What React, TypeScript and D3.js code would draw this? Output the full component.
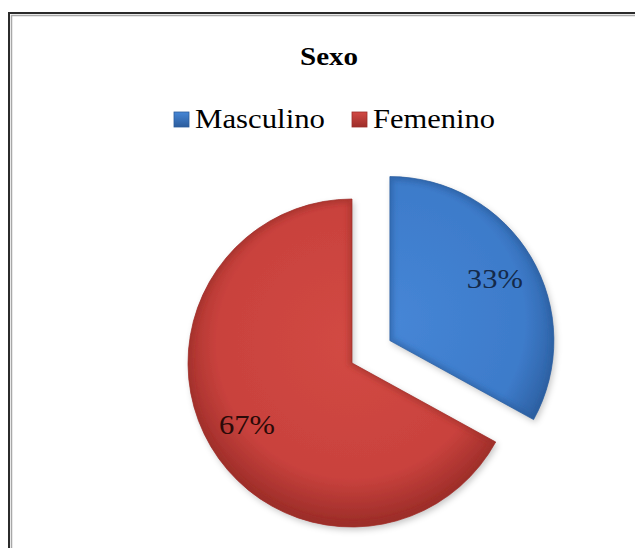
import React from "react";
import * as d3 from "d3";

const categories = ["Masculino", "Femenino"];
const values = [33, 67];
const labels = ["33%", "67%"];
const title = "Sexo";

const W = 635;
const H = 548;
const cx = 352;
const cy = 363;
const R = 164;
const explode = [44, 0];
const baseColors = ["#3d7bca", "#c9423d"];
const lightColors = ["#4686d6", "#d24944"];
const darkColors = ["#2b5c9c", "#9d2d29"];

export default function App() {
  const pie = d3.pie<number>().sort(null).startAngle(0).endAngle(2 * Math.PI);
  const arcs = pie(values);
  const arcGen = d3.arc<d3.PieArcDatum<number>>().innerRadius(0).outerRadius(R);

  const serif = "'Liberation Serif', 'Times New Roman', serif";

  const legendX = d3.scaleOrdinal<string, number>().domain(categories).range([174, 352]);

  return (
    <svg
      width={W}
      height={H}
      style={{ position: "absolute", left: 0, top: 0, background: "#fff" }}
    >
      <defs>
        {categories.map((c, i) => (
          <radialGradient
            key={c}
            id={`g${i}`}
            gradientUnits="userSpaceOnUse"
            cx={0}
            cy={-20}
            r={R * 1.1}
          >
            <stop offset="0%" stopColor={lightColors[i]} />
            <stop offset="75%" stopColor={baseColors[i]} />
            <stop offset="100%" stopColor={darkColors[i]} />
          </radialGradient>
        ))}
        {categories.map((c, i) => (
          <linearGradient key={c} id={`lg${i}`} x1="0" y1="0" x2="0" y2="1">
            <stop offset="0%" stopColor={lightColors[i]} />
            <stop offset="100%" stopColor={darkColors[i]} />
          </linearGradient>
        ))}
        <filter id="shadow" x="-20%" y="-20%" width="140%" height="140%">
          <feDropShadow dx="2" dy="3" stdDeviation="3" floodColor="#000" floodOpacity="0.22" />
        </filter>
        <filter id="blur">
          <feGaussianBlur stdDeviation="2.5" />
        </filter>
        {arcs.map((a, i) => (
          <clipPath key={i} id={`clip${i}`}>
            <path d={arcGen(a) || ""} />
          </clipPath>
        ))}
      </defs>

      {/* chart border */}
      <rect x={9} y={13} width={W} height={H} fill="none" stroke="#2b2b2b" strokeWidth={2} />
      <rect x={11.5} y={15.5} width={W} height={H} fill="none" stroke="#a8a8a8" strokeWidth={1.5} />

      <text
        x={329}
        y={65}
        textAnchor="middle"
        fontFamily={serif}
        fontWeight="bold"
        fontSize={25}
        textLength={58}
        lengthAdjust="spacingAndGlyphs"
        fill="#000"
      >
        {title}
      </text>

      {categories.map((c, i) => (
        <g key={c}>
          <rect
            x={legendX(c)}
            y={112}
            width={15}
            height={15}
            fill={`url(#lg${i})`}
            stroke={darkColors[i]}
            strokeWidth={0.8}
          />
          <text
            x={(legendX(c) as number) + 21}
            y={128}
            fontFamily={serif}
            fontSize={28}
            textLength={i === 0 ? 130 : 122}
            lengthAdjust="spacingAndGlyphs"
            fill="#000"
          >
            {c}
          </text>
        </g>
      ))}

      {arcs.map((a, i) => {
        const mid = (a.startAngle + a.endAngle) / 2;
        const dx = Math.sin(mid) * explode[i];
        const dy = -Math.cos(mid) * explode[i];
        const lx = Math.sin(mid) * 122;
        const ly = -Math.cos(mid) * 122;
        return (
          <g key={i} transform={`translate(${cx + dx},${cy + dy})`}>
            <path d={arcGen(a) || ""} fill={`url(#g${i})`} filter="url(#shadow)" />
            <g clipPath={`url(#clip${i})`}>
              <path
                d={arcGen(a) || ""}
                fill="none"
                stroke={darkColors[i]}
                strokeWidth={7}
                strokeOpacity={0.55}
                filter="url(#blur)"
              />
            </g>
            <path d={arcGen(a) || ""} fill="none" stroke={darkColors[i]} strokeWidth={1} strokeOpacity={0.7} />
            <text
              x={lx}
              y={ly + 9}
              textAnchor="middle"
              fontFamily={serif}
              fontSize={27}
              textLength={56}
              lengthAdjust="spacingAndGlyphs"
              fill={i === 0 ? "#142a4a" : "#2a0a08"}
            >
              {labels[i]}
            </text>
          </g>
        );
      })}
    </svg>
  );
}
